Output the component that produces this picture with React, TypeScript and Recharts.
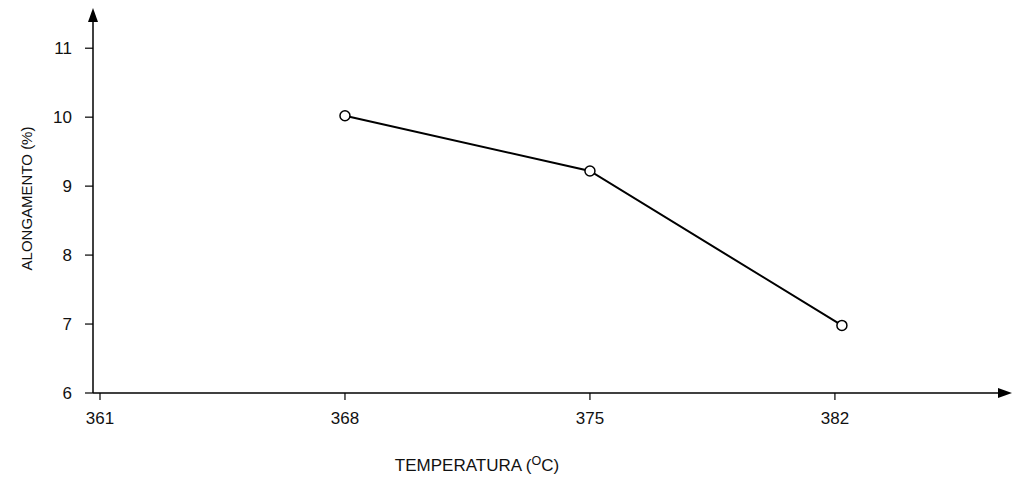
import { LineChart, Line, XAxis, YAxis, Label } from "recharts";

const temperatures = [368, 375, 382.2];
const elongation = [10.02, 9.22, 6.98];
const xTicks = [361, 368, 375, 382];
const yTicks = [6, 7, 8, 9, 10, 11];

const data = temperatures.map((t, i) => ({ temp: t, value: elongation[i] }));

const FONT = "'Liberation Sans', Arial, sans-serif";

function XTitle(props: any) {
    const { viewBox } = props;
    return (
        <text x={477} y={viewBox.y + 78} textAnchor="middle" fontFamily={FONT} fontSize={17} fill="#111">
            TEMPERATURA (
            <tspan dy={-6} fontSize={12.5}>O</tspan>
            <tspan dy={6}>C)</tspan>
        </text>
    );
}

export default function App() {
    return (
        <div style={{ position: "absolute", left: 0, top: 0, background: "#fff" }}>
            <LineChart
                width={1016}
                height={480}
                data={data}
                margin={{ top: 22, right: 18, bottom: 0, left: 0 }}
            >
                <defs>
                    <marker
                        id="arrow"
                        markerUnits="userSpaceOnUse"
                        markerWidth={14}
                        markerHeight={10}
                        refX={0}
                        refY={5}
                        orient="auto-start-reverse"
                    >
                        <path d="M0,0 L14,5 L0,10 Z" fill="#000" />
                    </marker>
                </defs>

                <XAxis
                    dataKey="temp"
                    type="number"
                    domain={[360.8, 386.66]}
                    ticks={xTicks}
                    height={87}
                    tickSize={7}
                    tickMargin={12}
                    axisLine={{ stroke: "#000", strokeWidth: 1.5, markerEnd: "url(#arrow)" } as any}
                    tickLine={{ stroke: "#000", strokeWidth: 1.2 }}
                    tick={{ fill: "#111", fontSize: 17, fontFamily: FONT }}
                >
                    <Label content={<XTitle />} />
                </XAxis>

                <YAxis
                    type="number"
                    domain={[6, 11.38]}
                    ticks={yTicks}
                    width={93}
                    tickSize={8}
                    tickMargin={13}
                    axisLine={{ stroke: "#000", strokeWidth: 1.5, markerStart: "url(#arrow)" } as any}
                    tickLine={{ stroke: "#000", strokeWidth: 1.2 }}
                    tick={{ fill: "#111", fontSize: 17, fontFamily: FONT }}
                >
                    <Label
                        value="ALONGAMENTO (%)"
                        angle={-90}
                        position="insideLeft"
                        offset={0}
                        style={{ fontFamily: FONT, fontSize: 15, fill: "#111", textAnchor: "middle" }}
                        dx={27}
                        dy={-9}
                    />
                </YAxis>

                <Line
                    dataKey="value"
                    type="linear"
                    stroke="#000"
                    strokeWidth={2}
                    dot={{ r: 5, stroke: "#000", strokeWidth: 1.5, fill: "#fff" }}
                    isAnimationActive={false}
                />
            </LineChart>
        </div>
    );
}
